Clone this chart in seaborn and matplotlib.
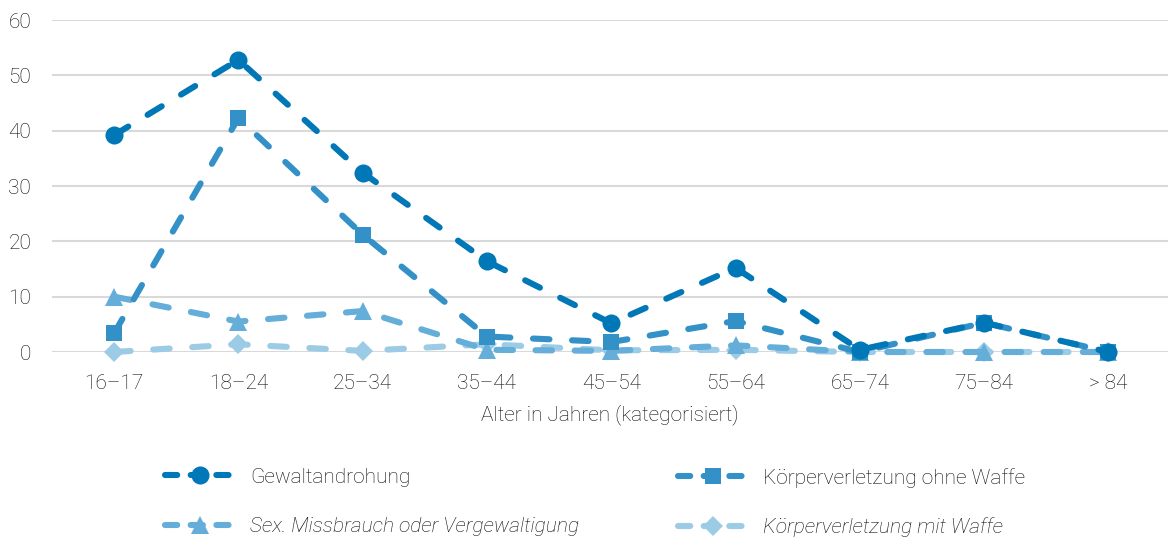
import matplotlib
matplotlib.use("Agg")
import matplotlib.pyplot as plt
import seaborn as sns
import pandas as pd
import numpy as np
from matplotlib.lines import Line2D

categories = ["16–17", "18–24", "25–34", "35–44", "45–54", "55–64", "65–74", "75–84", "> 84"]
gewalt = [39.2, 52.8, 32.4, 16.4, 5.2, 15.2, 0.4, 5.3, 0.0]
ohne_waffe = [3.4, 42.3, 21.2, 2.8, 1.8, 5.6, 0.0, 5.3, 0.0]
sex = [10.0, 5.5, 7.4, 0.4, 0.2, 1.2, 0.0, 0.0, 0.0]
mit_waffe = [0.0, 1.4, 0.2, 1.4, 0.3, 0.4, 0.0, 0.0, 0.0]
series_names = ["Gewaltandrohung", "Körperverletzung ohne Waffe",
                "Sex. Missbrauch oder Vergewaltigung", "Körperverletzung mit Waffe"]
y_ticks = [0, 10, 20, 30, 40, 50, 60]
x_label = "Alter in Jahren (kategorisiert)"

sns.set_style("white")
plt.rcParams['font.family'] = ['Roboto', 'DejaVu Sans']
plt.rcParams['font.weight'] = 'light'

TXT = "#0a0a0a"
colors = ["#0077b6", "#3391c8", "#64aed9", "#9ccbe6"]
markers = ["o", "s", "^", "D"]
msizes = [13, 12, 13, 10]
values = [gewalt, ohne_waffe, sex, mit_waffe]
LW = 4.4
DASH = (2.7, 3.7)

fig = plt.figure(figsize=(11.68, 5.43), dpi=100)
ax = fig.add_axes([52/1168, (543-352)/543, 1 - 52/1168, (352-20)/543])

x = np.arange(len(categories))
handles = {}
for i in [3, 2, 1, 0]:
    df = pd.DataFrame({"x": x, "y": values[i]})
    sns.lineplot(data=df, x="x", y="y", ax=ax, color=colors[i], lw=LW,
                 marker=markers[i], markersize=msizes[i], markeredgewidth=0,
                 dashes=DASH, dash_capstyle="round", clip_on=False,
                 zorder=3 + (3 - i), sort=False, legend=False)
    handles[i] = Line2D([], [], color=colors[i], lw=LW, marker=markers[i],
                        markersize=msizes[i], markeredgewidth=0,
                        dashes=(2.0, 2.2), dash_capstyle="round")

ax.set_xlim(-0.5, 8.48)
ax.set_ylim(0, 60)
ax.set_yticks(y_ticks)
ax.set_xticks(x)
ax.set_xticklabels(categories)
ax.grid(axis="y", color="#d9d9d9", lw=1.5)
ax.grid(axis="x", visible=False)
ax.set_axisbelow(True)
for s in ax.spines.values():
    s.set_visible(False)
ax.tick_params(axis="x", length=6, width=1.5, color="#d9d9d9", pad=10,
               labelsize=15, labelcolor=TXT)
ax.tick_params(axis="y", length=0, pad=15, labelsize=15, labelcolor=TXT)
ax.set_xlabel(x_label, fontsize=15, color=TXT, labelpad=8, fontweight="light")
ax.set_ylabel("")

common = dict(loc="upper left", frameon=False, fontsize=15, handlelength=3.4,
              labelspacing=1.45, handletextpad=0.7, labelcolor=TXT)
leg1 = fig.legend([handles[0], handles[2]], [series_names[0], series_names[2]],
                  bbox_to_anchor=(146/1168, 1 - 449/543), **common)
leg2 = fig.legend([handles[1], handles[3]], [series_names[1], series_names[3]],
                  bbox_to_anchor=(659/1168, 1 - 449/543), **common)
leg1.get_texts()[1].set_fontstyle("italic")
leg2.get_texts()[1].set_fontstyle("italic")

fig.savefig("out.png", dpi=100)
